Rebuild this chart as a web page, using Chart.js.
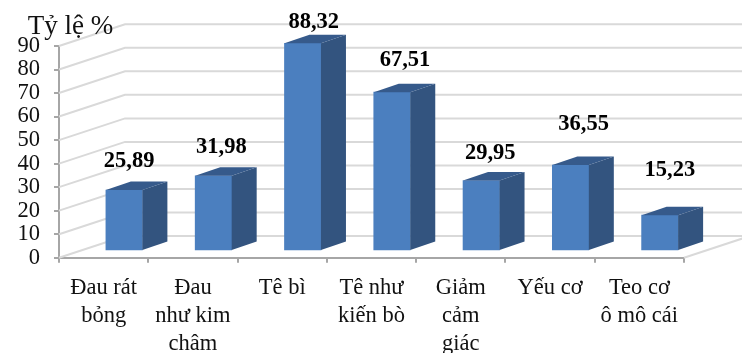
<!DOCTYPE html>
<html>
<head>
<meta charset="utf-8">
<style>html,body{margin:0;padding:0;background:#fff}canvas{display:block}</style>
<script src="https://cdn.jsdelivr.net/npm/chart.js@4/dist/chart.umd.min.js"></script>
</head>
<body>
<canvas id="chart" width="742" height="353"></canvas>
<script>
// Symptom frequencies (%)
const categories = [
  ['Đau rát', 'bỏng'],
  ['Đau', 'như kim', 'châm'],
  'Tê bì',
  ['Tê như', 'kiến bò'],
  ['Giảm', 'cảm', 'giác'],
  'Yếu cơ',
  ['Teo cơ', 'ô mô cái']
];
const values = [25.89, 31.98, 88.32, 67.51, 29.95, 36.55, 15.23];
const yTicks = [0, 10, 20, 30, 40, 50, 60, 70, 80, 90];
const axisCaption = 'Tỷ lệ %';

// Hand-placed value label offsets from the top of each bar's front face
const labelNudges = [[5, -29], [8, -29], [11, -21], [13, -32], [9, -27], [13, -41], [10, -45]];

const SERIF = '"Liberation Serif", "Times New Roman", serif';
const WALL = { dx: 66, dy: -21.7 };      // depth of the box the chart stands in
const BAR_SHIFT = { dx: 20.5, dy: -6.7 };  // how far into the box the bars sit
const BAR_DEPTH = { dx: 25, dy: -8.5 };  // depth of each bar
const COLORS = { grid: '#d9d9d9', axis: '#a6a6a6', front: '#4b7fbf', side: '#33547f', top: '#365a8b' };

const boxPlugin = {
  id: 'box',
  beforeDatasetsDraw(chart) {
    const { ctx, scales: { x, y }, width } = chart;
    ctx.save();
    ctx.strokeStyle = COLORS.grid;
    ctx.lineWidth = 2;
    yTicks.forEach(v => {
      const py = y.getPixelForValue(v);
      ctx.beginPath();
      ctx.moveTo(x.left, py);
      ctx.lineTo(x.left + WALL.dx, py + WALL.dy);
      ctx.lineTo(width, py + WALL.dy);
      ctx.stroke();
    });
    // Right edge of the floor
    const floor = y.getPixelForValue(0);
    ctx.beginPath();
    ctx.moveTo(x.right, floor);
    ctx.lineTo(x.right + WALL.dx, floor + WALL.dy);
    ctx.stroke();
    ctx.restore();
  },
  beforeDatasetDraw(chart) {
    chart.ctx.save();
    chart.ctx.translate(BAR_SHIFT.dx, BAR_SHIFT.dy);
  },
  afterDatasetDraw(chart, args) {
    const { ctx } = chart;
    args.meta.data.forEach(bar => {
      const l = bar.x - bar.width / 2, r = bar.x + bar.width / 2;
      const t = bar.y, b = bar.base;
      ctx.fillStyle = COLORS.side;
      ctx.beginPath();
      ctx.moveTo(r, t);
      ctx.lineTo(r + BAR_DEPTH.dx, t + BAR_DEPTH.dy);
      ctx.lineTo(r + BAR_DEPTH.dx, b + BAR_DEPTH.dy);
      ctx.lineTo(r, b);
      ctx.closePath();
      ctx.fill();
      ctx.fillStyle = COLORS.top;
      ctx.beginPath();
      ctx.moveTo(l, t);
      ctx.lineTo(l + BAR_DEPTH.dx, t + BAR_DEPTH.dy);
      ctx.lineTo(r + BAR_DEPTH.dx, t + BAR_DEPTH.dy);
      ctx.lineTo(r, t);
      ctx.closePath();
      ctx.fill();
    });
    ctx.restore();
  },
  afterDraw(chart) {
    const { ctx } = chart;
    const meta = chart.getDatasetMeta(0);
    ctx.save();
    ctx.fillStyle = '#000';
    ctx.textAlign = 'center';
    ctx.textBaseline = 'middle';
    ctx.font = 'bold 22.5px ' + SERIF;
    meta.data.forEach((bar, i) => {
      const text = values[i].toFixed(2).replace('.', ',');
      ctx.fillText(text, bar.x + BAR_SHIFT.dx + labelNudges[i][0], bar.y + BAR_SHIFT.dy + labelNudges[i][1]);
    });
    ctx.font = '27px ' + SERIF;
    ctx.fillStyle = '#111';
    ctx.fillText(axisCaption, 70.5, 27);
    ctx.restore();
  }
};

new Chart(document.getElementById('chart'), {
  type: 'bar',
  data: {
    labels: categories,
    datasets: [{
      data: values,
      backgroundColor: COLORS.front,
      borderWidth: 0,
      barThickness: 36.5,
      clip: false
    }]
  },
  options: {
    responsive: false,
    animation: false,
    events: [],
    layout: { padding: { top: 46, right: 58, left: 0, bottom: 0 } },
    plugins: { legend: { display: false }, tooltip: { enabled: false } },
    scales: {
      x: {
        afterFit(s) { s.height = 95.3; },
        border: { color: COLORS.axis, width: 2 },
        grid: { drawOnChartArea: false, color: COLORS.axis, lineWidth: 2, tickLength: 5 },
        ticks: {
          color: '#111', font: { family: SERIF, size: 22.5, lineHeight: 1.25 },
          maxRotation: 0, autoSkip: false, padding: 11
        }
      },
      y: {
        min: 0, max: 90,
        afterFit(s) { s.width = 59; },
        border: { color: COLORS.axis, width: 2 },
        grid: { drawOnChartArea: false, color: COLORS.axis, lineWidth: 2, tickLength: 5 },
        ticks: {
          color: '#111', font: { family: SERIF, size: 22.5 }, stepSize: 10, padding: 14, autoSkip: false
        }
      }
    }
  },
  plugins: [boxPlugin]
});
</script>
</body>
</html>
